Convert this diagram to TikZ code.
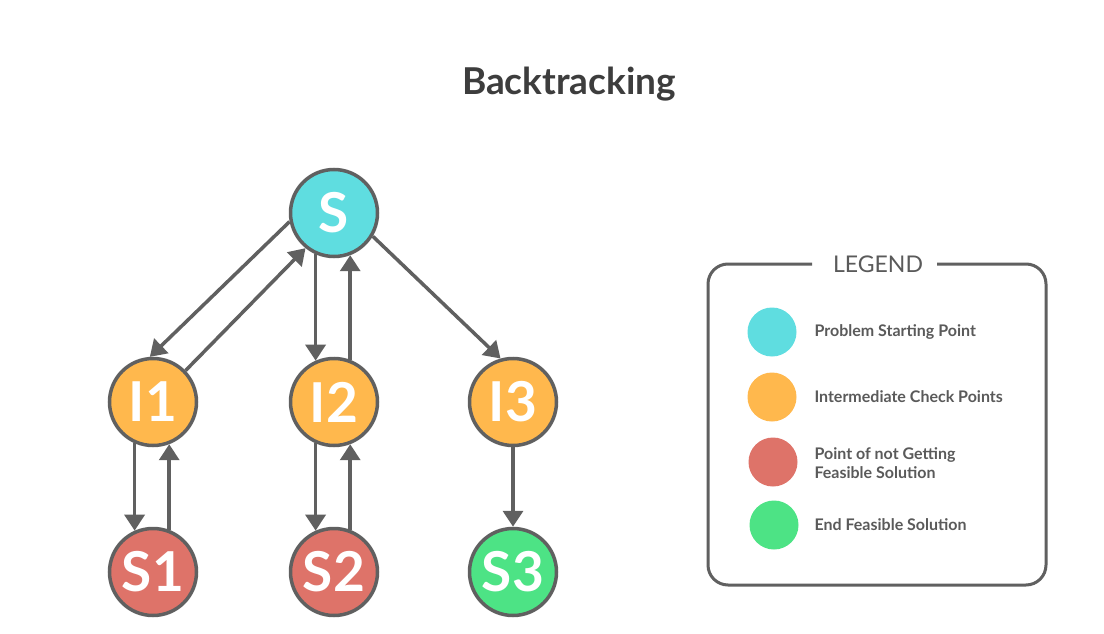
\documentclass[tikz,border=0pt]{standalone}
\usepackage{fontspec}
\setmainfont{Lato}
\usetikzlibrary{arrows.meta}
\definecolor{edge}{HTML}{606060}
\definecolor{cS}{HTML}{5FDDE0}
\definecolor{cI}{HTML}{FFB84D}
\definecolor{cF}{HTML}{DE7369}
\definecolor{cG}{HTML}{4DE385}
\definecolor{txt}{HTML}{5A5A5A}
\definecolor{ttl}{HTML}{3D3D3D}
\tikzset{
  st/.style={circle,draw=edge,line width=3.5pt,minimum size=87pt,inner sep=0pt,
    text=white,font=\fontsize{55}{55}\selectfont\bfseries},
  conn/.style={draw=edge,line width=3.5pt,-{Triangle[width=20pt,length=16pt]}},
  ldot/.style={circle,minimum size=49pt,inner sep=0pt},
  ltext/.style={anchor=west,text=txt,font=\fontsize{16}{19}\selectfont\bfseries,align=left},
}
\begin{document}
\begin{tikzpicture}[x=1pt,y=-1pt]
\useasboundingbox[fill=white] (0,0) rectangle (1104,634);
\node[text=ttl,font=\fontsize{37}{37}\selectfont\bfseries] (title) at (569,84) {Backtracking};
\node[st,fill=cS] (S) at (334,213) {S};
\node[st,fill=cI] (I1) at (153,402) {I1};
\node[st,fill=cI] (I2) at (334,402) {I2};
\node[st,fill=cI] (I3) at (513,402) {I3};
\node[st,fill=cF] (S1) at (153,572) {S1};
\node[st,fill=cF] (S2) at (334,572) {S2};
\node[st,fill=cG] (S3) at (513,572) {S3};
\draw[conn] (S.191) -- (I1.94);
\draw[conn] (I1.44) -- (S.231);
\draw[conn] (S.246) -- (I2.114);
\draw[conn] (I2.69) -- (S.291);
\draw[conn] (S.-31) -- (I3.106);
\draw[conn] (I1.246) -- (S1.114);
\draw[conn] (S1.69) -- (I1.291);
\draw[conn] (I2.246) -- (S2.114);
\draw[conn] (S2.69) -- (I2.291);
\draw[conn] (I3.270) -- (S3.90);
% legend
\draw[edge,line width=3pt,rounded corners=20pt] (812,264) -- (708,264) -- (708,585) -- (1046,585) -- (1046,264) -- (937,264);
\node[text=txt,font=\fontsize{23}{23}\selectfont] (lg) at (878,264) {LEGEND};
\node[ldot,fill=cS] (d1) at (772,332) {};
\node[ldot,fill=cI] (d2) at (772,397) {};
\node[ldot,fill=cF] (d3) at (773,462) {};
\node[ldot,fill=cG] (d4) at (774,525) {};
\node[ltext] (t1) at (811,332) {Problem Starting Point};
\node[ltext] (t2) at (811,397) {Intermediate Check Points};
\node[ltext] (t3) at (811,463) {Point of not Getting\\Feasible Solution};
\node[ltext] (t4) at (811,525) {End Feasible Solution};
\end{tikzpicture}
\end{document}
